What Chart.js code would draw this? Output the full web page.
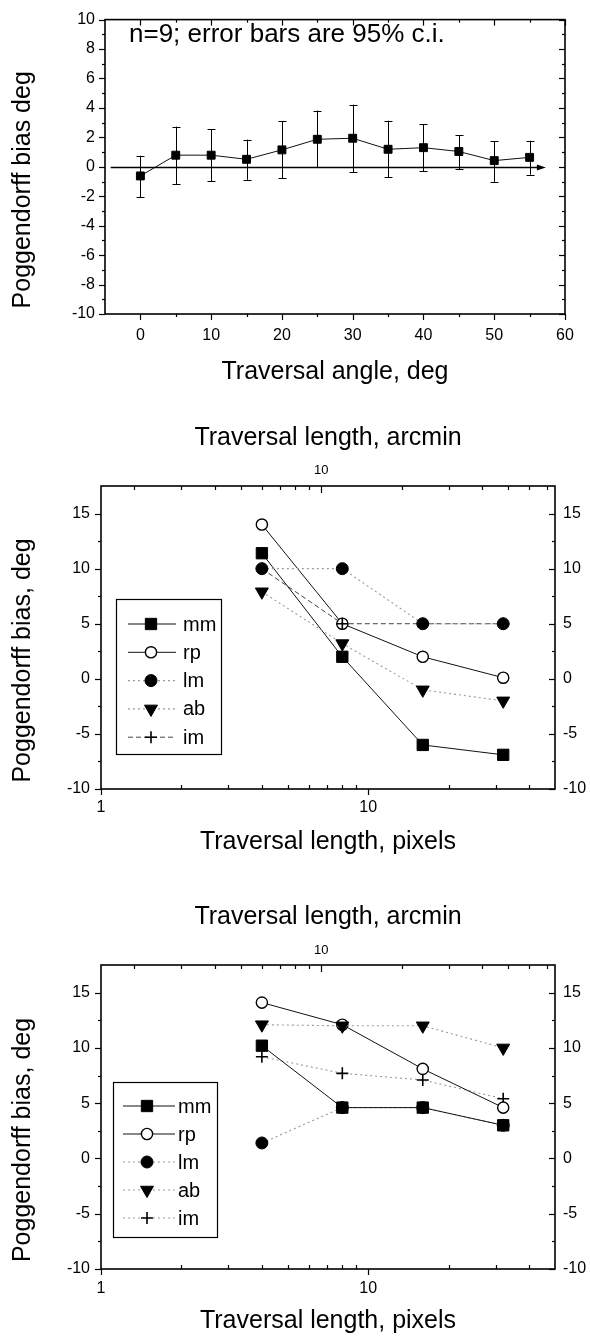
<!DOCTYPE html>
<html><head><meta charset="utf-8">
<script src="https://cdn.jsdelivr.net/npm/chart.js@4.4.1/dist/chart.umd.min.js"></script>
<style>
html,body{margin:0;padding:0;background:#fff;}
body{width:590px;height:1338px;position:relative;overflow:hidden;}
canvas{position:absolute;left:0;}
</style></head><body>
<canvas id="c1" width="590" height="390" style="top:0px"></canvas>
<canvas id="c2" width="590" height="470" style="top:390px"></canvas>
<canvas id="c3" width="590" height="468" style="top:870px"></canvas>
<script>
// ---------- DATA ----------
// Panel 1: bias vs traversal angle (mean and 95% c.i.)
const angleDeg   = [0, 5, 10, 15, 20, 25, 30, 35, 40, 45, 50, 55];
const biasMean   = [-0.62, 0.79, 0.79, 0.51, 1.15, 1.87, 1.94, 1.19, 1.30, 1.04, 0.42, 0.64];
const ciHigh     = [0.75, 2.73, 2.54, 1.85, 3.09, 3.82, 4.22, 3.13, 2.89, 2.16, 1.74, 1.77];
const ciLow      = [-2.05, -1.17, -0.97, -0.88, -0.77, -0.02, -0.38, -0.71, -0.31, -0.15, -1.02, -0.53];
const angleTicks = [0, 10, 20, 30, 40, 50, 60];
const biasTicks1 = [-10, -8, -6, -4, -2, 0, 2, 4, 6, 8, 10];
const zeroArrow  = {y: 0, from: -4.2, to: 57.3};

// Panels 2 and 3: bias vs traversal length
const lengthPx      = [4, 8, 16, 32];
const observers     = ['mm', 'rp', 'lm', 'ab', 'im'];
const mid_mm = [11.4, 2.0, -6.0, -6.9];
const mid_rp = [14.0, 5.0, 2.0, 0.1];
const mid_lm = [10.0, 10.0, 5.0, 5.0];
const mid_ab = [7.9, 3.2, -1.0, -2.0];
const mid_im = [10.0, 5.0, 5.0, 5.0];
const bot_mm = [10.2, 4.6, 4.6, 3.0];
const bot_rp = [14.1, 12.1, 8.1, 4.6];
const bot_lm = [1.4, 4.6, 4.6, 3.0];
const bot_ab = [12.1, 12.0, 12.0, 10.0];
const bot_im = [9.2, 7.7, 7.1, 5.4];
const pxTickLabels     = [1, 10];
const arcminTickLabels = [10];
const biasTicks2       = [-10, -5, 0, 5, 10, 15];
const arcminPerPixel   = 1.5;

// ---------- COMMON ----------
const FONT = "'Liberation Sans', Arial, Helvetica, sans-serif";
Chart.defaults.font.family = FONT;
Chart.defaults.color = '#000';
Chart.defaults.animation = false;
Chart.defaults.events = [];

function setTicks(list) { return (scale) => { scale.ticks = list.map(v => ({value: v})); }; }
function fixW(w) { return (s) => { s.width = w; }; }
function fixH(h) { return (s) => { s.height = h; }; }

function drawMarker(ctx, st, x, y) {
  const r = st.pointRadius;
  ctx.save();
  ctx.fillStyle = st.pointBackgroundColor || '#000';
  ctx.strokeStyle = st.pointBorderColor || '#000';
  ctx.lineWidth = st.pointBorderWidth || 1;
  ctx.setLineDash([]);
  ctx.beginPath();
  if (st.pointStyle === 'rect') {
    const s = r * Math.SQRT1_2; ctx.rect(x - s, y - s, 2 * s, 2 * s);
  } else if (st.pointStyle === 'circle') {
    ctx.arc(x, y, r, 0, Math.PI * 2);
  } else if (st.pointStyle === 'triangle') {
    let rad = (st.pointRotation || 0) * Math.PI / 180;
    ctx.moveTo(x + Math.sin(rad) * r, y - Math.cos(rad) * r);
    rad += 2 * Math.PI / 3; ctx.lineTo(x + Math.sin(rad) * r, y - Math.cos(rad) * r);
    rad += 2 * Math.PI / 3; ctx.lineTo(x + Math.sin(rad) * r, y - Math.cos(rad) * r);
    ctx.closePath();
  } else if (st.pointStyle === 'cross') {
    ctx.moveTo(x, y - r); ctx.lineTo(x, y + r); ctx.moveTo(x - r, y); ctx.lineTo(x + r, y);
  }
  if (st.pointStyle !== 'cross') ctx.fill();
  ctx.stroke();
  ctx.restore();
}

function tickMarks(chart, specs) {
  const ctx = chart.ctx, a = chart.chartArea;
  ctx.save(); ctx.strokeStyle = '#000'; ctx.lineWidth = 1.2; ctx.setLineDash([]);
  specs.forEach(s => {
    const sc = chart.scales[s.scale];
    s.values.forEach(v => {
      const p = Math.round(sc.getPixelForValue(v)) + 0.5;
      const L = s.len;
      const lo = s.dir === 'in' ? 0 : L, hi = s.dir === 'out' ? 0 : L;
      ctx.beginPath();
      if (s.edge === 'bottom') { ctx.moveTo(p, a.bottom + lo); ctx.lineTo(p, a.bottom - hi); }
      if (s.edge === 'top')    { ctx.moveTo(p, a.top - lo);    ctx.lineTo(p, a.top + hi); }
      if (s.edge === 'left')   { ctx.moveTo(a.left - lo, p);   ctx.lineTo(a.left + hi, p); }
      if (s.edge === 'right')  { ctx.moveTo(a.right + lo, p);  ctx.lineTo(a.right - hi, p); }
      ctx.stroke();
    });
  });
  ctx.lineWidth = 1.6;
  ctx.strokeRect(a.left, a.top, a.right - a.left, a.bottom - a.top);
  ctx.restore();
}

function yTitle(chart, text, x, shift) {
  const ctx = chart.ctx, a = chart.chartArea;
  ctx.save();
  ctx.translate(x, (a.top + a.bottom) / 2 + shift);
  ctx.rotate(-Math.PI / 2);
  ctx.font = '25px ' + FONT; ctx.fillStyle = '#000';
  ctx.textAlign = 'center'; ctx.textBaseline = 'middle';
  ctx.fillText(text, 0, 0);
  ctx.restore();
}

function legendBox(chart, L) {
  const ctx = chart.ctx;
  ctx.save();
  ctx.fillStyle = '#fff'; ctx.fillRect(L.x, L.y, L.w, L.h);
  ctx.strokeStyle = '#000'; ctx.lineWidth = 1.2; ctx.setLineDash([]);
  ctx.strokeRect(L.x + 0.5, L.y + 0.5, L.w, L.h);
  chart.data.datasets.forEach((d, i) => {
    const y = L.firstY + i * L.step;
    ctx.save();
    ctx.strokeStyle = d.borderColor; ctx.lineWidth = d.borderWidth; ctx.setLineDash(d.borderDash || []);
    ctx.beginPath(); ctx.moveTo(L.lineX0, y); ctx.lineTo(L.lineX1, y); ctx.stroke();
    ctx.restore();
    drawMarker(ctx, d, L.markX, y);
    ctx.font = '20px ' + FONT; ctx.fillStyle = '#000'; ctx.textBaseline = 'middle'; ctx.textAlign = 'left';
    ctx.fillText(d.label, L.textX, y + 1);
  });
  ctx.restore();
}

// ---------- PANEL 1 ----------
new Chart(document.getElementById('c1'), {
  type: 'line',
  data: { datasets: [{
    label: 'bias',
    data: angleDeg.map((x, i) => ({x, y: biasMean[i]})),
    borderColor: '#111', borderWidth: 1, fill: false, tension: 0,
    pointStyle: 'rect', pointRadius: 5.6, pointBackgroundColor: '#000', pointBorderColor: '#000', pointBorderWidth: 1
  }]},
  options: {
    responsive: false, devicePixelRatio: 1,
    layout: { padding: {top: 12, right: 25, left: 0, bottom: 0} },
    plugins: { legend: {display: false}, tooltip: {enabled: false} },
    scales: {
      x: {
        type: 'linear', position: 'bottom', min: -5, max: 60,
        afterBuildTicks: setTicks(angleTicks), afterFit: fixH(76),
        grid: {display: false, drawTicks: false}, border: {display: false},
        ticks: {padding: 12, font: {size: 16}, maxRotation: 0, callback: v => String(v)},
        title: {display: true, text: 'Traversal angle, deg', font: {size: 25}, padding: {top: 0, bottom: 3}}
      },
      y: {
        type: 'linear', position: 'left', min: -10, max: 10,
        afterBuildTicks: setTicks(biasTicks1), afterFit: fixW(105),
        grid: {display: false, drawTicks: false}, border: {display: false},
        ticks: {padding: 10, font: {size: 16}, callback: v => String(v)}
      }
    }
  },
  plugins: [{
    id: 'p1',
    afterDatasetsDraw(chart) {
      const ctx = chart.ctx, sx = chart.scales.x, sy = chart.scales.y;
      ctx.save(); ctx.strokeStyle = '#000'; ctx.lineWidth = 1;
      angleDeg.forEach((a, i) => {
        const x = Math.round(sx.getPixelForValue(a)) + 0.5;
        const y1 = sy.getPixelForValue(ciHigh[i]), y0 = sy.getPixelForValue(ciLow[i]);
        ctx.beginPath();
        ctx.moveTo(x, y1); ctx.lineTo(x, y0);
        ctx.moveTo(x - 4, Math.round(y1) + 0.5); ctx.lineTo(x + 4, Math.round(y1) + 0.5);
        ctx.moveTo(x - 4, Math.round(y0) + 0.5); ctx.lineTo(x + 4, Math.round(y0) + 0.5);
        ctx.stroke();
      });
      // zero reference line with arrow
      const yz = Math.round(sy.getPixelForValue(zeroArrow.y)) + 0.5;
      const xa = sx.getPixelForValue(zeroArrow.from), xb = sx.getPixelForValue(zeroArrow.to);
      ctx.lineWidth = 1.3;
      ctx.beginPath(); ctx.moveTo(xa, yz); ctx.lineTo(xb - 6, yz); ctx.stroke();
      ctx.fillStyle = '#000';
      ctx.beginPath(); ctx.moveTo(xb, yz); ctx.lineTo(xb - 9, yz - 3); ctx.lineTo(xb - 9, yz + 3); ctx.closePath(); ctx.fill();
      ctx.restore();
    },
    afterDraw(chart) {
      const odd = [], five = [];
      for (let v = -9; v <= 9; v += 2) odd.push(v);
      for (let v = 5; v <= 55; v += 10) five.push(v);
      tickMarks(chart, [
        {scale: 'x', edge: 'bottom', values: angleTicks, len: 6, dir: 'out'},
        {scale: 'x', edge: 'bottom', values: five, len: 3, dir: 'out'},
        {scale: 'x', edge: 'top', values: angleTicks, len: 6, dir: 'in'},
        {scale: 'x', edge: 'top', values: five, len: 3, dir: 'in'},
        {scale: 'y', edge: 'left', values: biasTicks1, len: 6, dir: 'out'},
        {scale: 'y', edge: 'left', values: odd, len: 3, dir: 'out'},
        {scale: 'y', edge: 'right', values: biasTicks1, len: 6, dir: 'in'},
        {scale: 'y', edge: 'right', values: odd, len: 3, dir: 'in'}
      ]);
      yTitle(chart, 'Poggendorff bias deg', 23, 23);
      const ctx = chart.ctx;
      ctx.save(); ctx.font = '26px ' + FONT; ctx.fillStyle = '#000'; ctx.textBaseline = 'middle';
      ctx.fillText('n=9; error bars are 95% c.i.', 129, 35);
      ctx.restore();
    }
  }]
});

// ---------- PANELS 2 & 3 ----------
const SOLID  = {borderColor: '#111', borderWidth: 1, borderDash: []};
const DOT    = {borderColor: '#9a9a9a', borderWidth: 1.1, borderDash: [2, 3]};
const DASH   = {borderColor: '#444', borderWidth: 1, borderDash: [5, 3]};
const SQ  = {pointStyle: 'rect', pointRadius: 8, pointBackgroundColor: '#000', pointBorderColor: '#000', pointBorderWidth: 1};
const OC  = {pointStyle: 'circle', pointRadius: 5.6, pointBackgroundColor: '#fff', pointBorderColor: '#000', pointBorderWidth: 1.4};
const FC  = {pointStyle: 'circle', pointRadius: 6, pointBackgroundColor: '#000', pointBorderColor: '#000', pointBorderWidth: 1};
const TRI = {pointStyle: 'triangle', pointRotation: 180, pointRadius: 7.5, pointBackgroundColor: '#000', pointBorderColor: '#000', pointBorderWidth: 1};
const CR  = {pointStyle: 'cross', pointRadius: 6, pointBackgroundColor: '#000', pointBorderColor: '#000', pointBorderWidth: 1.6};

function series(label, ys, line, marker, order) {
  return Object.assign({label, order, fill: false, tension: 0,
    data: lengthPx.map((x, i) => ({x, y: ys[i]}))}, line, marker);
}

function lengthChart(id, datasets, geo) {
  const minors = [2, 3, 4, 5, 6, 7, 8, 9, 20, 30, 40];
  const arcMinors = [2, 3, 4, 5, 6, 7, 8, 9, 20, 30, 40, 50, 60, 70];
  const yMinor = [-7.5, -2.5, 2.5, 7.5, 12.5];
  return new Chart(document.getElementById(id), {
    type: 'line',
    data: {datasets},
    options: {
      responsive: false, devicePixelRatio: 1,
      layout: {padding: 0},
      plugins: {legend: {display: false}, tooltip: {enabled: false}},
      scales: {
        x: {
          type: 'logarithmic', position: 'bottom', min: 1, max: 50,
          afterBuildTicks: setTicks(pxTickLabels), afterFit: fixH(geo.bottomH),
          grid: {display: false, drawTicks: false}, border: {display: false},
          ticks: {padding: geo.xPad, font: {size: 16}, maxRotation: 0, autoSkip: false, callback: v => String(v)},
          title: {display: true, text: 'Traversal length, pixels', font: {size: 25}, padding: {top: 0, bottom: geo.xTitlePad}}
        },
        x2: {
          type: 'logarithmic', position: 'top', min: 1 * arcminPerPixel, max: 50 * arcminPerPixel,
          afterBuildTicks: setTicks(arcminTickLabels), afterFit: fixH(geo.topH),
          grid: {display: false, drawTicks: false}, border: {display: false},
          ticks: {padding: geo.x2Pad, font: {size: 13}, maxRotation: 0, autoSkip: false, callback: v => String(v)},
          title: {display: true, text: 'Traversal length, arcmin', font: {size: 25}, padding: {top: geo.x2TitlePad, bottom: 0}}
        },
        y: {
          type: 'linear', position: 'left', min: -10, max: 17.5,
          afterBuildTicks: setTicks(biasTicks2), afterFit: fixW(101),
          grid: {display: false, drawTicks: false}, border: {display: false},
          ticks: {padding: 11, font: {size: 16}, callback: v => String(v)}
        },
        y2: {
          type: 'linear', position: 'right', min: -10, max: 17.5,
          afterBuildTicks: setTicks(biasTicks2), afterFit: fixW(35),
          grid: {display: false, drawTicks: false}, border: {display: false},
          ticks: {padding: 8, font: {size: 16}, callback: v => String(v)}
        }
      }
    },
    plugins: [{
      id: 'frame_' + id,
      afterDraw(chart) {
        tickMarks(chart, [
          {scale: 'x', edge: 'bottom', values: pxTickLabels, len: 6, dir: 'out'},
          {scale: 'x', edge: 'bottom', values: minors, len: 4, dir: 'in'},
          {scale: 'x2', edge: 'top', values: arcminTickLabels, len: 7, dir: 'in'},
          {scale: 'x2', edge: 'top', values: arcMinors, len: 4, dir: 'in'},
          {scale: 'y', edge: 'left', values: biasTicks2, len: 6, dir: 'out'},
          {scale: 'y', edge: 'left', values: yMinor, len: 3, dir: 'out'},
          {scale: 'y2', edge: 'right', values: biasTicks2, len: 6, dir: 'in'},
          {scale: 'y2', edge: 'right', values: yMinor, len: 3, dir: 'in'}
        ]);
        yTitle(chart, 'Poggendorff bias, deg', 23, 23);
        legendBox(chart, geo.legend);
      }
    }]
  });
}

lengthChart('c2', [
  series(observers[0], mid_mm, SOLID, SQ, 4),
  series(observers[1], mid_rp, SOLID, OC, 2),
  series(observers[2], mid_lm, DOT, FC, 0),
  series(observers[3], mid_ab, DOT, TRI, 3),
  series(observers[4], mid_im, DASH, CR, 1)
], {
  bottomH: 71, topH: 96, xPad: 9.4, xTitlePad: 3, x2Pad: 8.2, x2TitlePad: 33,
  legend: {x: 116, y: 209, w: 105, h: 155, firstY: 234, step: 28.3, lineX0: 128, lineX1: 176, markX: 151, textX: 183}
});

lengthChart('c3', [
  series(observers[0], bot_mm, SOLID, SQ, 0),
  series(observers[1], bot_rp, SOLID, OC, 2),
  series(observers[2], bot_lm, DOT, FC, 4),
  series(observers[3], bot_ab, DOT, TRI, 1),
  series(observers[4], bot_im, DOT, CR, 3)
], {
  bottomH: 69, topH: 95, xPad: 10.4, xTitlePad: 2, x2Pad: 7.2, x2TitlePad: 32,
  legend: {x: 113, y: 212, w: 104, h: 155, firstY: 236, step: 28, lineX0: 123, lineX1: 175, markX: 147, textX: 178}
});
</script>
</body></html>
